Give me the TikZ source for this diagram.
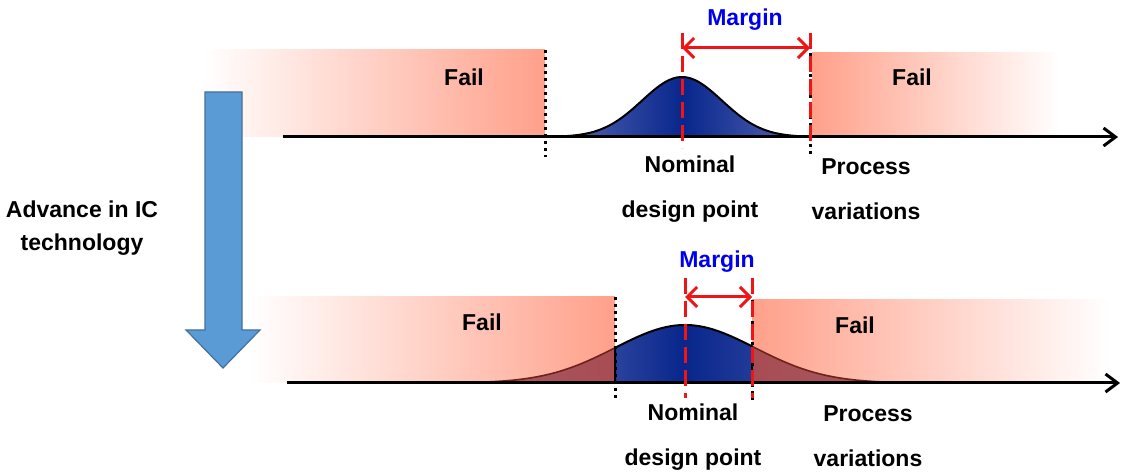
\documentclass[tikz,border=0pt]{standalone}
\usepackage{fontspec}
\setmainfont{Liberation Sans}
\usetikzlibrary{arrows.meta}
\definecolor{FailRed}{RGB}{255,160,138}
\definecolor{GaussDark}{RGB}{8,38,140}
\definecolor{GaussLight}{RGB}{105,118,188}
\definecolor{TailRed}{RGB}{115,25,50}
\definecolor{TailLine}{RGB}{110,35,25}
\definecolor{ArrowBlue}{RGB}{91,155,213}
\definecolor{ArrowEdge}{RGB}{65,113,156}
\definecolor{MarginBlue}{RGB}{0,0,240}
\definecolor{MarginRed}{RGB}{240,20,20}

\begin{document}
\begin{tikzpicture}[x=0.5pt, y=-0.5pt,
          lbl/.style={font=\fontsize{11.5}{22.5}\selectfont\bfseries,
                      align=center, inner sep=0pt},
          marginlbl/.style={lbl, text=MarginBlue},
          axis/.style={line width=1.5pt, -{Straight Barb[length=6pt, width=9pt]}},
          bound/.style={line width=1.5pt, dotted},
          nominal/.style={draw=MarginRed, line width=1.5pt,
                          dash pattern=on 8pt off 3.5pt},
          span/.style={draw=MarginRed, line width=1.5pt,
                       {Straight Barb[length=5pt, width=10pt]}-{Straight Barb[length=5pt, width=10pt]}}
        ]
        \useasboundingbox (0,0) rectangle (1123,474);

        % Fail regions
        \shade[left color=white, right color=FailRed] (203,50) rectangle (545,137);
        \shade[left color=FailRed, right color=white] (812,53) rectangle (1060,137);
        \shade[left color=white, right color=FailRed] (250,297) rectangle (615,383);
        \shade[left color=FailRed, right color=white] (752,300) rectangle (1110,383);

        % Axes
        \coordinate (axT0) at (283,137);
        \coordinate (axT1) at (1118,137);
        \coordinate (axB0) at (287,383);
        \coordinate (axB1) at (1120,383);

        % Narrow distribution
        \shadedraw[left color=GaussLight, right color=GaussLight,
                   middle color=GaussDark, draw=black, line width=1pt]
              plot[domain=530:835, samples=90]
              (\x, {137-60*exp(-0.5*((\x-682)/40)^2)}) -- cycle;

        % Wide distribution
        \fill[TailRed, fill opacity=0.62]
              plot[domain=290:615, samples=90]
              (\x, {383-58*exp(-0.5*((\x-685)/70)^2)}) -- (615,383) -- cycle;
        \fill[TailRed, fill opacity=0.62]
              plot[domain=752:1085, samples=90]
              (\x, {383-58*exp(-0.5*((\x-685)/70)^2)}) -- (752,383) -- cycle;
        \draw[TailLine, line width=0.8pt]
              plot[domain=290:615, samples=90]
              (\x, {383-58*exp(-0.5*((\x-685)/70)^2)});
        \draw[TailLine, line width=0.8pt]
              plot[domain=752:1085, samples=90]
              (\x, {383-58*exp(-0.5*((\x-685)/70)^2)});
        \shadedraw[left color=GaussDark!65!GaussLight, right color=GaussDark!75!GaussLight,
                   middle color=GaussDark, draw=black, line width=1pt]
              plot[domain=615:752, samples=60]
              (\x, {383-58*exp(-0.5*((\x-685)/70)^2)}) -- (752,383) -- (615,383) -- cycle;

        \draw[axis] (axT0) -- (axT1);
        \draw[axis] (axB0) -- (axB1);

        % Spec limits
        \draw[bound] (545,50) -- (545,157);
        \draw[bound] (810,53) -- (810,157);
        \draw[bound] (615,297) -- (615,400);
        \draw[bound] (752,300) -- (752,400);

        % Nominal point and margin
        \coordinate (nomT) at (682,48);
        \coordinate (limT) at (810,48);
        \coordinate (nomB) at (685,297);
        \coordinate (limB) at (752,297);
        \draw[nominal] (682,33) -- (682,148);
        \draw[nominal] (810,33) -- (810,148);
        \draw[nominal] (685,278) -- (685,398);
        \draw[nominal] (752,278) -- (752,398);
        \draw[span] (nomT) -- (limT);
        \draw[span] (nomB) -- (limB);
        \node[marginlbl] (marginT) at (745,20) {Margin};
        \node[marginlbl] (marginB) at (717,262) {Margin};

        % Labels
        \node[lbl] (failTL) at (464,77) {Fail};
        \node[lbl] (failTR) at (912,77) {Fail};
        \node[lbl] (failBL) at (482,322) {Fail};
        \node[lbl] (failBR) at (855,325) {Fail};
        \node[lbl] (nominalT) at (690,189) {Nominal\\design point};
        \node[lbl] (processT) at (866,189) {Process\\variations};
        \node[lbl] (nominalB) at (693,437) {Nominal\\design point};
        \node[lbl] (processB) at (868,436) {Process\\variations};

        % Technology trend
        \draw[fill=ArrowBlue, draw=ArrowEdge, line width=0.6pt]
              (205,92) -- (242,92) -- (242,330) -- (260,330) -- (223,368)
              -- (186,330) -- (205,330) -- cycle;
        \node[lbl, font=\fontsize{11.5}{16.5}\selectfont\bfseries]
              (advance) at (82,228) {Advance in IC\\technology};
      \end{tikzpicture}
\end{document}
